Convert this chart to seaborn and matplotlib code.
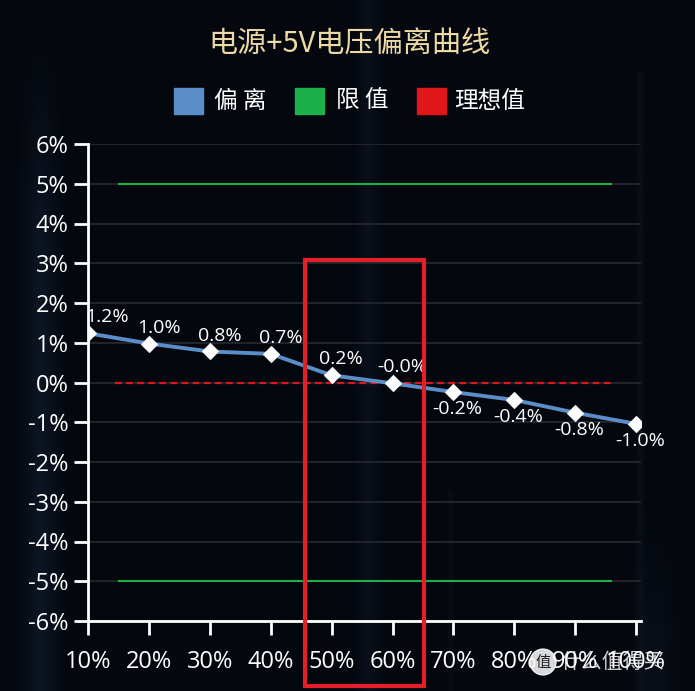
import numpy as np
import pandas as pd
import matplotlib
matplotlib.use("Agg")
import matplotlib.pyplot as plt
from matplotlib.patches import Rectangle, Circle
import seaborn as sns

# ---- data ----
categories = ["10%", "20%", "30%", "40%", "50%", "60%", "70%", "80%", "90%", "100%"]
deviation = [1.24, 0.98, 0.78, 0.72, 0.18, -0.02, -0.24, -0.44, -0.76, -1.04]
limit_values = [5, -5]
ideal_value = 0
y_ticks = [6, 5, 4, 3, 2, 1, 0, -1, -2, -3, -4, -5, -6]
title = "电源+5V电压偏离曲线"
legend_labels = ["偏 离", "限 值", "理想值"]

sns.set_theme(style="dark")
plt.rcParams['font.family'] = ['Noto Sans CJK SC', 'DejaVu Sans']

W, H = 695, 691
fig = plt.figure(figsize=(W / 100, H / 100), dpi=100)
fig.patch.set_facecolor("#04070d")

# background with soft vertical glow streaks
bg = fig.add_axes([0, 0, 1, 1], zorder=-10)
xs = np.arange(W)[None, :]
ys = np.arange(H)[:, None]
base = np.array([4, 7, 13], float) / 255
glow = np.zeros((H, W))
glow += 0.10 * np.exp(-((xs - 40) / 16) ** 2) * np.clip((ys - 30) / 200, 0, 1)
glow += 0.06 * np.exp(-((xs - 368) / 10) ** 2)
glow += 0.05 * np.exp(-((xs - 640) / 4) ** 2) * (ys > 70)
glow += 0.05 * np.exp(-((xs - 655) / 20) ** 2) * np.clip((ys - 500) / 150, 0, 1)
glow += 0.04 * np.exp(-((xs - 450) / 3) ** 2) * (ys > 490)
img = np.zeros((H, W, 3))
tint = np.array([0.35, 0.55, 0.85])
for c in range(3):
    img[:, :, c] = base[c] + glow * tint[c]
bg.imshow(np.clip(img, 0, 1), aspect="auto", extent=[0, W, H, 0])
bg.axis("off")

ax = fig.add_axes([88 / W, 1 - 621 / H, 553 / W, 477 / H])
ax.set_facecolor("none")

df = pd.DataFrame({"x": np.arange(len(categories)), "cat": categories, "dev": deviation})

# grid lines
for yt in y_ticks:
    ax.axhline(yt, color="#26292f", lw=1.2, zorder=0)

# limit lines and ideal line
for lv in limit_values:
    ax.hlines(lv, 0.49, 8.6, color="#1db04a", lw=1.5, zorder=2)
ax.hlines(ideal_value, 0.45, 8.65, color="#e0161b", lw=1.6, ls=(0, (3, 2)), zorder=2)

sns.lineplot(data=df, x="x", y="dev", ax=ax, color="#5b8dc8", lw=2.8,
             marker="D", markersize=8, markerfacecolor="white",
             markeredgecolor="white", zorder=5, legend=False)

lab_font = ["Open Sans", "DejaVu Sans"]
for i, v in enumerate(deviation):
    txt = f"{v:.1f}%"
    if v > -0.1:
        dx = 14 if i == 0 else 7
        ax.annotate(txt, (i, v), xytext=(dx, 5), textcoords="offset points",
                    ha="center", va="bottom", color="white", fontsize=14,
                    family=lab_font, zorder=6)
    else:
        ax.annotate(txt, (i, v), xytext=(3, -6), textcoords="offset points",
                    ha="center", va="top", color="white", fontsize=14,
                    family=lab_font, zorder=6)

ax.set_xlim(0, 9.08)
ax.set_ylim(-6, 6)
ax.set_xticks(range(len(categories)))
ax.set_xticklabels(categories)
ax.set_yticks(y_ticks)
ax.set_yticklabels([f"{t}%" for t in y_ticks])
ax.set_xlabel("")
ax.set_ylabel("")
ax.grid(False)

for s in ["top", "right"]:
    ax.spines[s].set_visible(False)
for s in ["left", "bottom"]:
    ax.spines[s].set_visible(True)
    ax.spines[s].set_color("white")
    ax.spines[s].set_linewidth(2)

ax.tick_params(axis="both", colors="white", length=10, width=2, direction="out",
               labelsize=17, bottom=True, left=True)
ax.tick_params(axis="x", pad=11)
ax.tick_params(axis="y", pad=4)
for lab in ax.get_xticklabels() + ax.get_yticklabels():
    lab.set_family(lab_font)
    lab.set_color("white")

# title
fig.text(349 / W, 1 - 45 / H, title, ha="center", va="center", color="#ecd9a6",
         fontsize=21)

# legend
leg_colors = ["#5b8dc8", "#1db04a", "#e0161b"]
sq_x = [174, 295, 417]
txt_x = [214, 336, 454]
for c, sx, tx, lab in zip(leg_colors, sq_x, txt_x, legend_labels):
    fig.patches.append(Rectangle((sx / W, 1 - 114 / H), 29 / W, 26 / H,
                                 transform=fig.transFigure, color=c))
    fig.text(tx / W, 1 - 101 / H, lab, ha="left", va="center", color="white",
             fontsize=17)

# red highlight box
fig.patches.append(Rectangle((305 / W, 1 - 686 / H), 119 / W, 426 / H,
                             transform=fig.transFigure, fill=False,
                             edgecolor="#e3202a", lw=3, zorder=20))

# watermark
fig.patches.append(Circle((543 / W, 1 - 662 / H), 13 / W, transform=fig.transFigure,
                          color="white", alpha=0.85, zorder=21))
fig.text(543 / W, 1 - 662 / H, "值", ha="center", va="center", color="#222",
         fontsize=11, zorder=22)
fig.text(560 / W, 1 - 662 / H, "什么值得买", ha="left", va="center",
         color="white", alpha=0.8, fontsize=15, zorder=22)

fig.savefig("out.png", dpi=100, facecolor=fig.get_facecolor())
